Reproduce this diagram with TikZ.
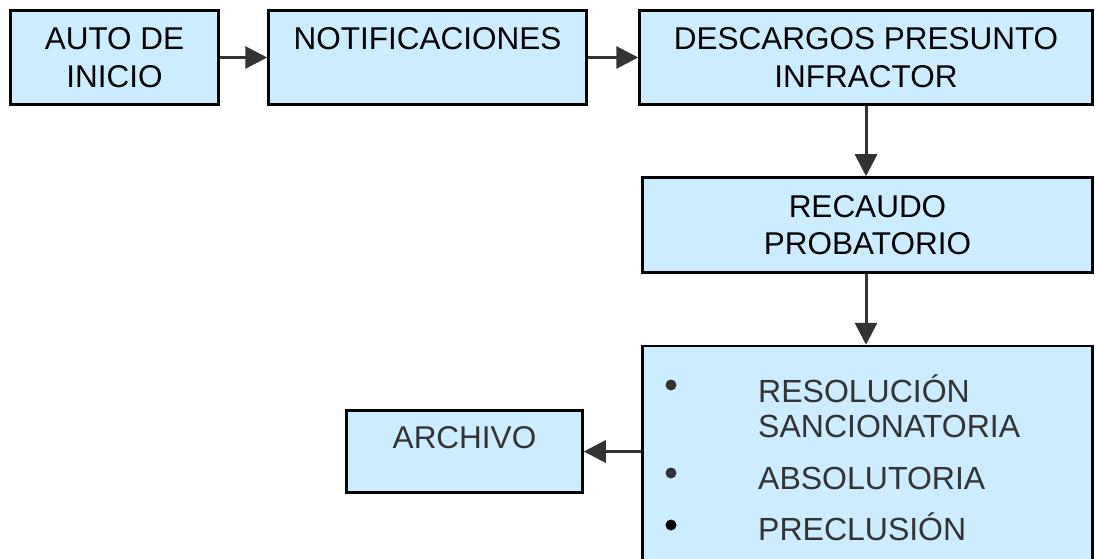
\documentclass[tikz,border=0pt]{standalone}
\usepackage{fontspec}
\setmainfont{Liberation Sans}
\usetikzlibrary{arrows.meta}
\definecolor{celeste}{HTML}{CCECFF}
\definecolor{gris}{HTML}{333333}

\begin{document}
\begin{tikzpicture}[x=1pt,y=-1pt,
        caja/.style={draw=black, line width=2.5pt, fill=celeste, inner sep=0pt,
            align=center, font=\fontsize{31.5}{37.5}\selectfont},
        flecha/.style={draw=gris, line width=3pt, -{Triangle[length=22pt,width=22pt]}},
        item/.style={anchor=base west, inner sep=0pt, text=gris,
            font=\fontsize{32}{35}\selectfont}]
        \clip (0,0) rectangle (1095,559);
        % fila de arriba
        \node[caja, minimum width=208pt, minimum height=94pt] (inicio) at (114.5,57.5) {AUTO DE\\INICIO};
        \node[caja, minimum width=318pt, minimum height=94pt] (notif) at (427.5,57.5) {NOTIFICACIONES\\\phantom{I}};
        \node[caja, minimum width=453pt, minimum height=94pt] (descargos) at (866,57.5) {DESCARGOS PRESUNTO\\INFRACTOR};
        % columna derecha
        \node[caja, minimum width=450pt, minimum height=95pt] (recaudo) at (867.5,225) {RECAUDO\\PROBATORIO};
        \node[caja, minimum width=450pt, minimum height=254pt] (fallo) at (867.5,473) {};
        \node[caja, text=gris, minimum width=236pt, minimum height=82pt] (archivo) at (464.5,451.5) {ARCHIVO\\[-10pt]\phantom{I}};
        % opciones del fallo
        \node[item] (res) at (758,402) {RESOLUCIÓN};
        \node[item] (sanc) at (758,437) {SANCIONATORIA};
        \node[item] (abs) at (758,489) {ABSOLUTORIA};
        \node[item] (prec) at (758,540) {PRECLUSIÓN};
        \foreach \y/\c in {385/gris,473/gris,525/black}
        \fill[\c] (671,\y) circle (5.5pt);
        % flechas
        \draw[flecha] (inicio) -- (notif);
        \draw[flecha] (notif) -- (descargos);
        \draw[flecha] (descargos.south) -- (descargos.south |- recaudo.north);
        \draw[flecha] (descargos.south |- recaudo.south) -- (descargos.south |- fallo.north);
        \draw[flecha] (archivo -| fallo.west) -- (archivo.east);
    \end{tikzpicture}
\end{document}
